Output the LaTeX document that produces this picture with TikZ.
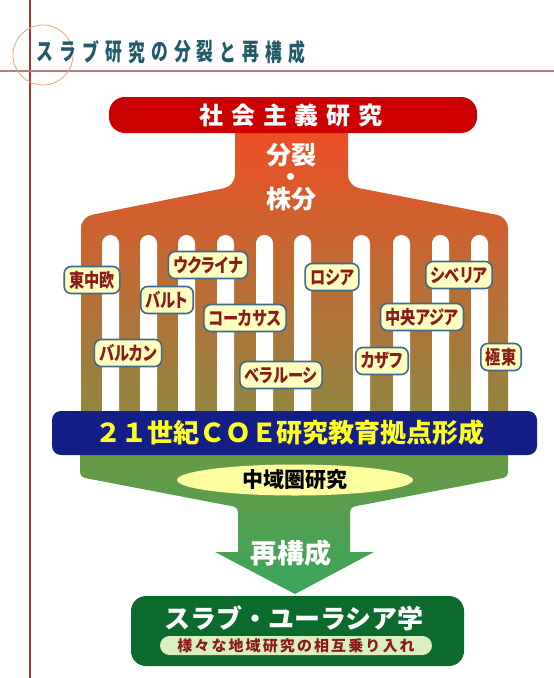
\documentclass[tikz,border=0pt]{standalone}
\usepackage{fontspec}
\setmainfont{Noto Sans CJK JP}
\newfontfamily\jpp{Noto Sans CJK JP}[RawFeature=+palt]
\usetikzlibrary{shapes.geometric}
\definecolor{titlecol}{HTML}{235A6A}
\definecolor{vlinecol}{HTML}{A83434}
\definecolor{hlinecol}{HTML}{B87A7A}
\definecolor{circcol}{HTML}{F2A080}
\definecolor{redbox}{HTML}{CC0000}
\definecolor{orangeT}{HTML}{F44A24}
\definecolor{oliveB}{HTML}{888C44}
\definecolor{navy}{HTML}{131F86}
\definecolor{yel}{HTML}{FFFF22}
\definecolor{greenT}{HTML}{6E9842}
\definecolor{greenB}{HTML}{3AA65C}
\definecolor{ellcol}{HTML}{FFFFA0}
\definecolor{dgreen}{HTML}{0B6A2C}
\definecolor{pillcol}{HTML}{D8F0C0}
\definecolor{dred}{HTML}{8B1A1A}
\definecolor{lblfill}{HTML}{FFFFC0}
\definecolor{lbldraw}{HTML}{3D6B8C}
\newcommand{\lbltext}[1]{\scalebox{0.8}[1]{#1}}
\begin{document}
\begin{tikzpicture}[x=1pt,y=-1pt,
  titlechar/.style={inner sep=0pt, text=titlecol, font=\bfseries\fontsize{24}{24}\selectfont},
  lbl/.style={rounded corners=7pt, fill=lblfill, draw=lbldraw, line width=1.6pt,
    text=dred, font=\jpp\bfseries\fontsize{19}{19}\selectfont, inner xsep=5pt, inner ysep=2pt,
    minimum height=27pt},
  whitetxt/.style={text=white, inner sep=0pt, font=\bfseries\fontsize{25}{25}\selectfont}]
\useasboundingbox (0,0) rectangle (554,678);
% frame
\coordinate (vt) at (30,0); \coordinate (vb) at (30,678);
\coordinate (hl) at (0,71); \coordinate (hr) at (554,71);
\draw[vlinecol, line width=1.2pt] (vt) -- (vb);
\draw[hlinecol, line width=1.5pt] (hl) -- (hr);
\draw[circcol, line width=0.8pt] (43,55) circle (30);
% title
\foreach \c [count=\i from 0] in {ス,ラ,ブ,研,究,の,分,裂,と,再,構,成}
  \node[titlechar] (t\i) at (45+\i*22.9,52) {\scalebox{0.7}[1]{\c}};
% orange fork
\shade[top color=orangeT, bottom color=oliveB, rounded corners=11pt]
  (235,110) -- (235,186) -- (81,217) -- (81,440) -- (508,440) -- (508,217) -- (348,186) -- (348,110) -- cycle;
\foreach \x in {102,140,178,217,256,294,353,393,432,471}
  \fill[white, rounded corners=8.4pt] (\x,440) -- (\x,235) -- (\x+17,235) -- (\x+17,440);
% green arrow
\shade[top color=greenT, bottom color=greenB]
  (80,440) -- (80,467) .. controls (80,477) .. (90,479) -- (226,505) .. controls (238,507) .. (238,519)
  -- (238,552) -- (215,552) -- (295,594) -- (374,552) -- (350,552) -- (350,519)
  .. controls (350,507) .. (362,505) -- (498,479) .. controls (508,477) .. (508,467) -- (508,440) -- cycle;
% red box
\node[fill=redbox, rounded corners=16pt, minimum width=368pt, minimum height=36pt, inner sep=0pt] (soc) at (293,115) {};
\node[text=white, font=\bfseries\fontsize{24}{24}\selectfont\addfontfeature{LetterSpace=33}] (soct) at (291,115) {社会主義研究};
\node[whitetxt, align=center, font=\bfseries\fontsize{25}{22}\selectfont] (bun) at (291,177) {分裂\\・\\株分};
% labels
\node[lbl] (l1) at (92,280) {\lbltext{東中欧}};
\node[lbl] (l2) at (208,265) {\lbltext{ウクライナ}};
\node[lbl] (l3) at (167,300) {\lbltext{バルト}};
\node[lbl] (l4) at (245,318) {\lbltext{コーカサス}};
\node[lbl] (l5) at (128,353) {\lbltext{バルカン}};
\node[lbl] (l6) at (281,375) {\lbltext{ベラルーシ}};
\node[lbl] (l7) at (332,277) {\lbltext{ロシア}};
\node[lbl] (l8) at (459,275) {\lbltext{シベリア}};
\node[lbl] (l9) at (422,317) {\lbltext{中央アジア}};
\node[lbl] (l10) at (382,361) {\lbltext{カザフ}};
\node[lbl] (l11) at (501,357) {\lbltext{極東}};
% blue bar
\node[fill=navy, rounded corners=9pt, minimum width=485pt, minimum height=44pt, inner sep=0pt] (coe) at (294.5,433) {};
\node[text=yel, inner sep=0pt, font=\bfseries\fontsize{26}{26}\selectfont] (coet) at (290,433) {２１世紀ＣＯＥ研究教育拠点形成};
% ellipse
\node[ellipse, fill=ellcol, minimum width=236pt, minimum height=31pt, inner sep=0pt,
  font=\bfseries\fontsize{21}{21}\selectfont] (chu) at (295,480) {中域圏研究};
\node[whitetxt, font=\bfseries\fontsize{27}{27}\selectfont] (sai) at (291,553) {再構成};
% bottom box
\node[fill=dgreen, rounded corners=15pt, minimum width=333pt, minimum height=70pt, inner sep=0pt] (eur) at (297.5,631) {};
\node[text=white, inner sep=0pt, font=\bfseries\fontsize{26}{26}\selectfont] (eurt) at (294,618) {スラブ・ユーラシア学};
\node[fill=pillcol, rounded corners=9.5pt, minimum width=272pt, minimum height=19pt, inner sep=0pt,
  text=dred, font=\bfseries\fontsize{15}{15}\selectfont\addfontfeature{LetterSpace=14}] (pill) at (296,645.5) {様々な地域研究の相互乗り入れ};
\end{tikzpicture}
\end{document}
